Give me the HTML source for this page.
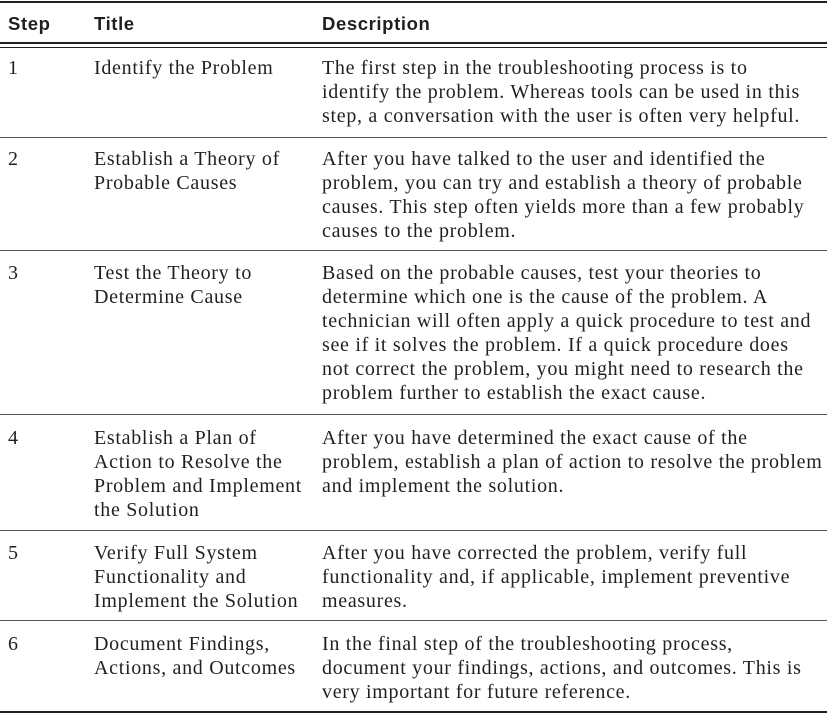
<!DOCTYPE html>
<html><head><meta charset="utf-8"><style>
body{margin:0;width:827px;height:714px;background:#fff;position:relative;overflow:hidden;color:#231f20}
.h{position:absolute;top:11px;font:bold 18.5px "Liberation Sans",sans-serif;line-height:26px;letter-spacing:0.6px}
.r{position:absolute;font:20px "Liberation Serif",serif;line-height:24px;white-space:nowrap;letter-spacing:0.7px}
.l{position:absolute;left:0;width:827px;background:#231f20}
</style></head><body>
<div class="l" style="top:1px;height:2px"></div>
<div class="l" style="top:42px;height:2px"></div>
<div class="l" style="top:47px;height:1px"></div>
<div class="l" style="top:137px;height:1px;background:#555"></div>
<div class="l" style="top:250px;height:1px;background:#555"></div>
<div class="l" style="top:414px;height:1px;background:#555"></div>
<div class="l" style="top:530px;height:1px;background:#555"></div>
<div class="l" style="top:620px;height:1px;background:#555"></div>
<div class="l" style="top:711px;height:2px"></div>

<div class="h" style="left:8px">Step</div>
<div class="h" style="left:94px">Title</div>
<div class="h" style="left:322px">Description</div>

<div class="r" style="left:8px;top:56px">1</div>
<div class="r" style="left:94px;top:56px">Identify the Problem</div>
<div class="r" style="left:322px;top:56px">The first step in the troubleshooting process is to<br>identify the problem. Whereas tools can be used in this<br>step, a conversation with the user is often very helpful.</div>

<div class="r" style="left:8px;top:147px">2</div>
<div class="r" style="left:94px;top:147px">Establish a Theory of<br>Probable Causes</div>
<div class="r" style="left:322px;top:147px">After you have talked to the user and identified the<br>problem, you can try and establish a theory of probable<br>causes. This step often yields more than a few probably<br>causes to the problem.</div>

<div class="r" style="left:8px;top:261px">3</div>
<div class="r" style="left:94px;top:261px">Test the Theory to<br>Determine Cause</div>
<div class="r" style="left:322px;top:261px">Based on the probable causes, test your theories to<br>determine which one is the cause of the problem. A<br>technician will often apply a quick procedure to test and<br>see if it solves the problem. If a quick procedure does<br>not correct the problem, you might need to research the<br>problem further to establish the exact cause.</div>

<div class="r" style="left:8px;top:426px">4</div>
<div class="r" style="left:94px;top:426px">Establish a Plan of<br>Action to Resolve the<br>Problem and Implement<br>the Solution</div>
<div class="r" style="left:322px;top:426px">After you have determined the exact cause of the<br>problem, establish a plan of action to resolve the problem<br>and implement the solution.</div>

<div class="r" style="left:8px;top:541px">5</div>
<div class="r" style="left:94px;top:541px">Verify Full System<br>Functionality and<br>Implement the Solution</div>
<div class="r" style="left:322px;top:541px">After you have corrected the problem, verify full<br>functionality and, if applicable, implement preventive<br>measures.</div>

<div class="r" style="left:8px;top:632px">6</div>
<div class="r" style="left:94px;top:632px">Document Findings,<br>Actions, and Outcomes</div>
<div class="r" style="left:322px;top:632px">In the final step of the troubleshooting process,<br>document your findings, actions, and outcomes. This is<br>very important for future reference.</div>
</body></html>
